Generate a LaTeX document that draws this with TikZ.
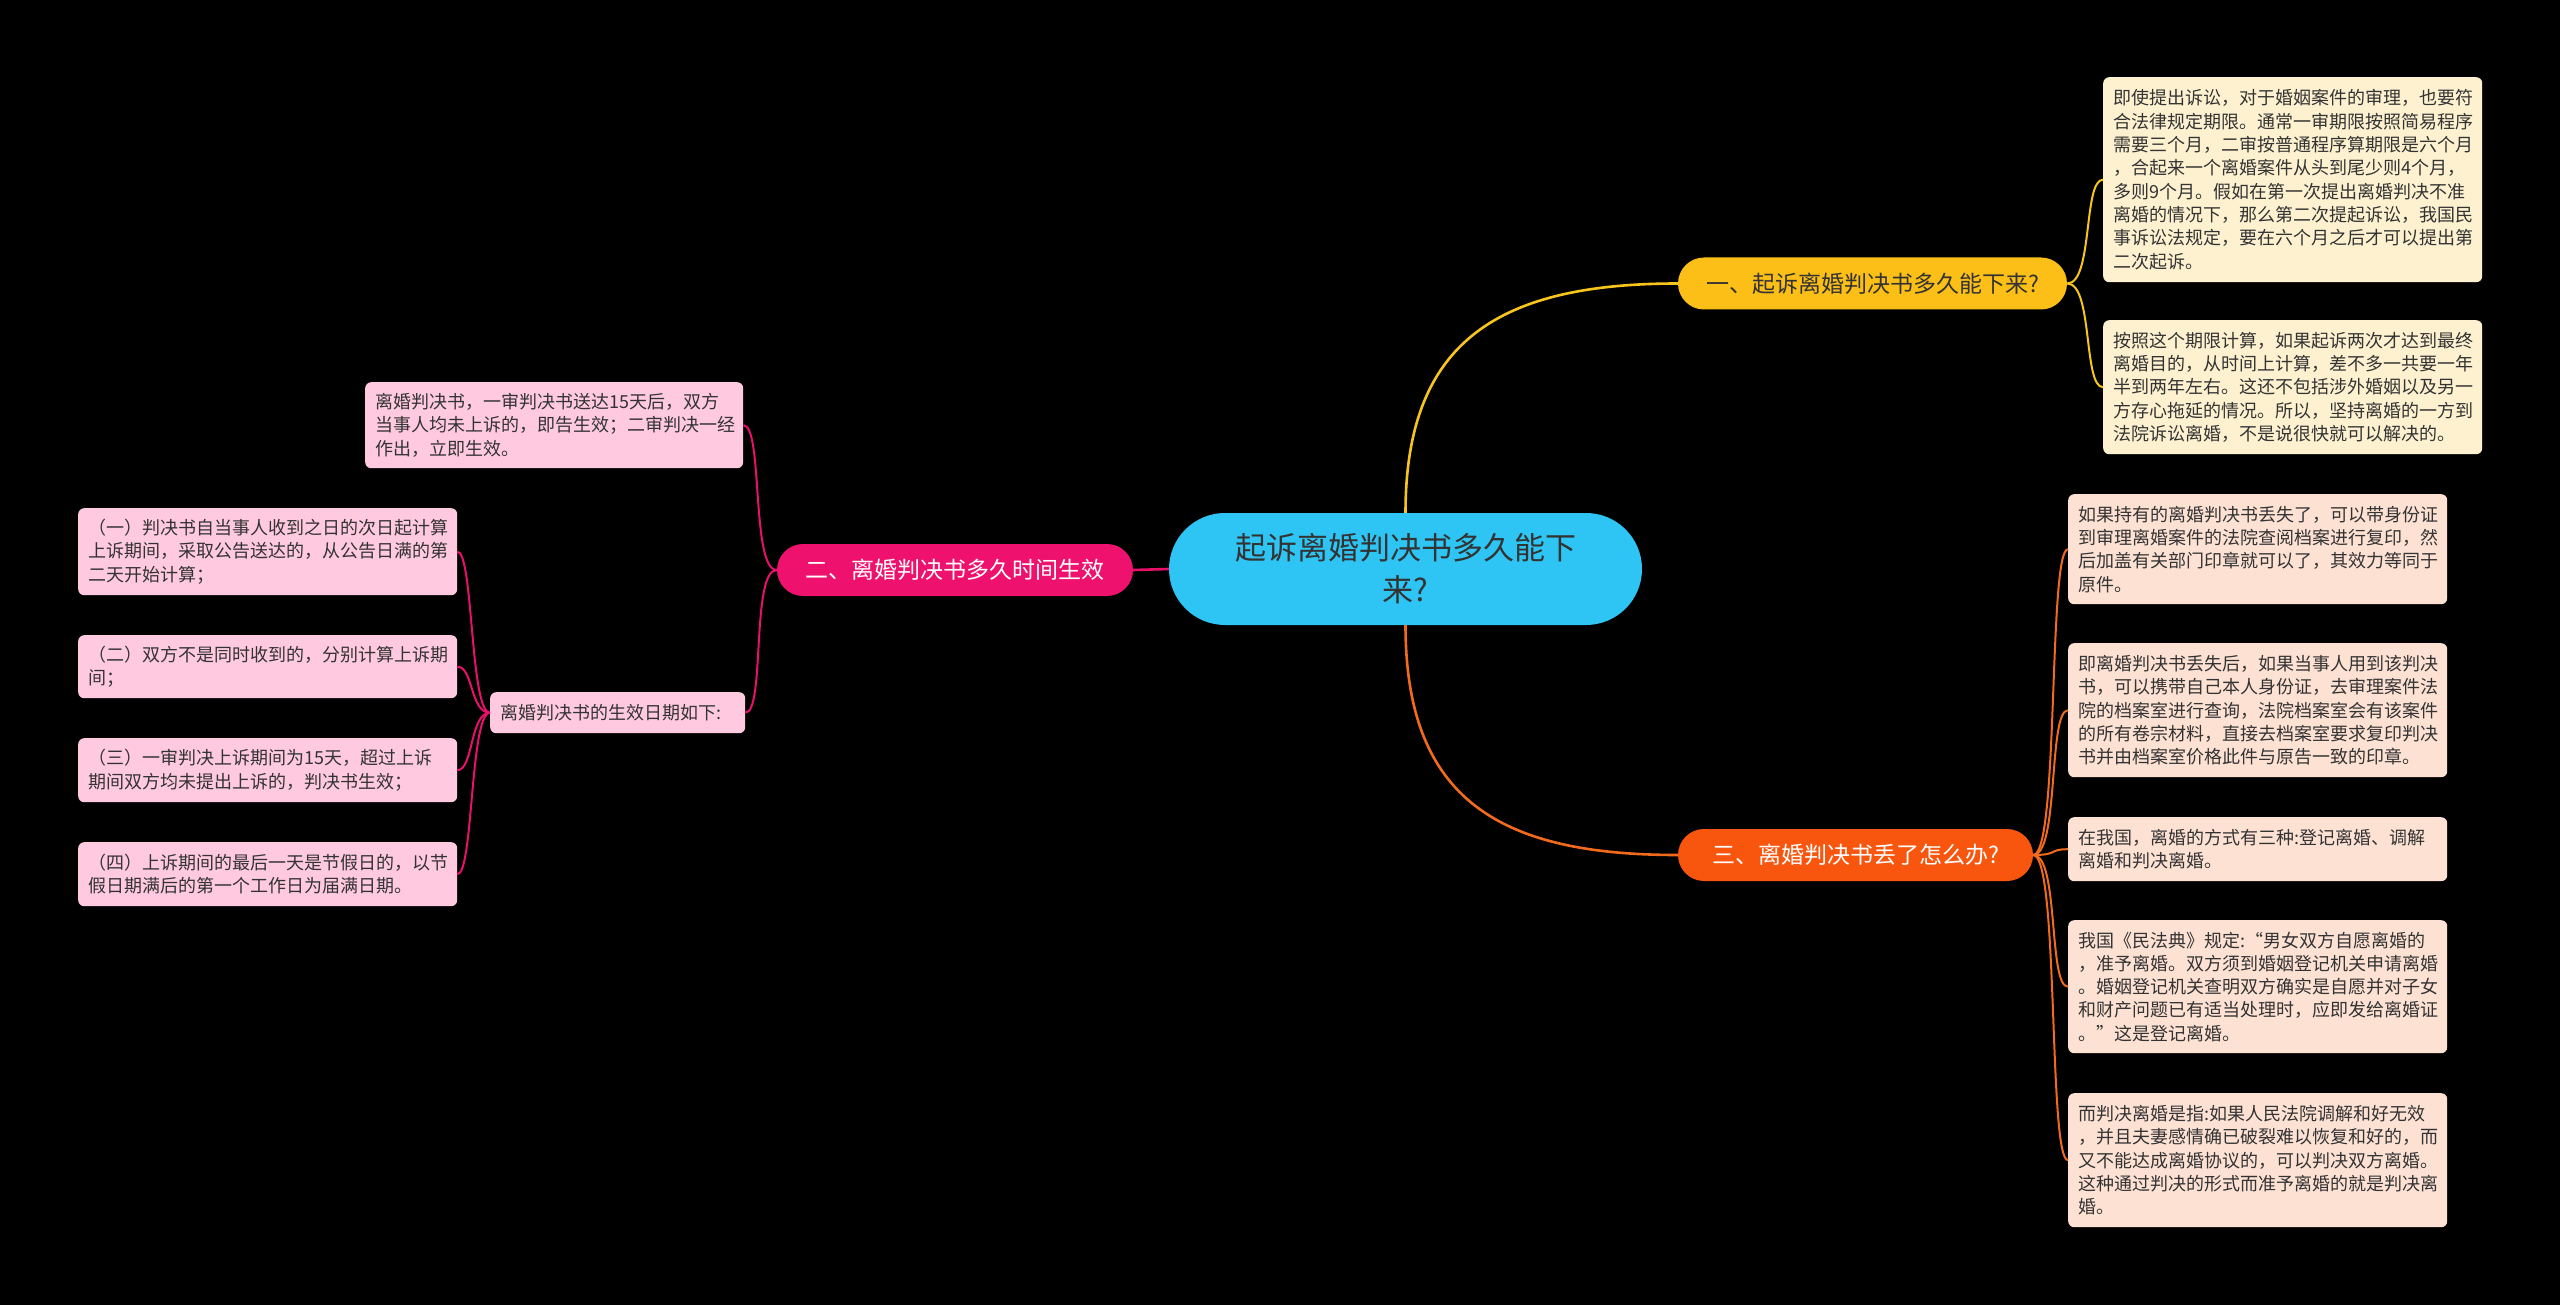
\documentclass[tikz,border=0pt]{standalone}
\usepackage{fontspec}
\setmainfont{Noto Sans CJK SC}
\definecolor{bg}{HTML}{000000}
\definecolor{cen}{HTML}{2EC5F4}
\definecolor{yel}{HTML}{FCBF17}
\definecolor{ora}{HTML}{F8560F}
\definecolor{mag}{HTML}{EE116D}
\definecolor{yleaf}{HTML}{FDF1D0}
\definecolor{oleaf}{HTML}{FDE2D4}
\definecolor{pleaf}{HTML}{FFCADF}
\definecolor{ylin}{HTML}{F8C51C}
\definecolor{olin}{HTML}{F26A1B}
\definecolor{mlin}{HTML}{E8106A}
\definecolor{txt}{HTML}{333333}
\tikzset{
  leaf/.style={anchor=north west, rounded corners=6pt, inner xsep=10pt, inner ysep=0pt,
    align=left, text=txt, font=\fontsize{18}{23.3}\selectfont},
  yleafbox/.style={leaf, fill=yleaf, minimum width=379pt, text width=359pt},
  oleafbox/.style={leaf, fill=oleaf, minimum width=379pt, text width=359pt},
  pleafbox/.style={leaf, fill=pleaf},
  branch/.style={rounded corners=26pt, minimum height=52pt, inner sep=0pt,
    font=\fontsize{23}{28}\selectfont},
  conn/.style={line width=2pt},
  mainconn/.style={line width=2.6pt}
}
\begin{document}
\begin{tikzpicture}[x=1pt,y=-1pt]
\fill[bg] (0,0) rectangle (2560,1305);
\useasboundingbox (0,0) rectangle (2560,1305);

% central
\node[fill=cen, rounded corners=56pt, minimum width=473pt, minimum height=112pt, inner sep=0pt,
  align=center, text=txt, font=\fontsize{31}{42}\selectfont] (c) at (1405.5,569) {起诉离婚判决书多久能下\\来?};

% main branches
\node[branch, fill=yel, text=txt, minimum width=389pt] (b1) at (1872.5,283.5) {一、起诉离婚判决书多久能下来?};
\node[branch, fill=ora, text=white, minimum width=355pt] (b3) at (1855.5,855) {三、离婚判决书丢了怎么办?};
\node[branch, fill=mag, text=white, minimum width=356pt] (b2) at (955,570) {二、离婚判决书多久时间生效};

% yellow leaves
\node[yleafbox, minimum height=205pt] (y1) at (2103,77) {即使提出诉讼，对于婚姻案件的审理，也要符\\合法律规定期限。通常一审期限按照简易程序\\需要三个月，二审按普通程序算期限是六个月\\，合起来一个离婚案件从头到尾少则4个月，\\多则9个月。假如在第一次提出离婚判决不准\\离婚的情况下，那么第二次提起诉讼，我国民\\事诉讼法规定，要在六个月之后才可以提出第\\二次起诉。};
\node[yleafbox, minimum height=134pt] (y2) at (2103,320) {按照这个期限计算，如果起诉两次才达到最终\\离婚目的，从时间上计算，差不多一共要一年\\半到两年左右。这还不包括涉外婚姻以及另一\\方存心拖延的情况。所以，坚持离婚的一方到\\法院诉讼离婚，不是说很快就可以解决的。};

% orange leaves
\node[oleafbox, minimum height=110pt] (o1) at (2068,494) {如果持有的离婚判决书丢失了，可以带身份证\\到审理离婚案件的法院查阅档案进行复印，然\\后加盖有关部门印章就可以了，其效力等同于\\原件。};
\node[oleafbox, minimum height=134pt] (o2) at (2068,643) {即离婚判决书丢失后，如果当事人用到该判决\\书，可以携带自己本人身份证，去审理案件法\\院的档案室进行查询，法院档案室会有该案件\\的所有卷宗材料，直接去档案室要求复印判决\\书并由档案室价格此件与原告一致的印章。};
\node[oleafbox, minimum height=64pt] (o3) at (2068,817) {在我国，离婚的方式有三种:登记离婚、调解\\离婚和判决离婚。};
\node[oleafbox, minimum height=133pt] (o4) at (2068,920) {我国《民法典》规定:“男女双方自愿离婚的\\，准予离婚。双方须到婚姻登记机关申请离婚\\。婚姻登记机关查明双方确实是自愿并对子女\\和财产问题已有适当处理时，应即发给离婚证\\。”这是登记离婚。};
\node[oleafbox, minimum height=134pt] (o5) at (2068,1093) {而判决离婚是指:如果人民法院调解和好无效\\，并且夫妻感情确已破裂难以恢复和好的，而\\又不能达成离婚协议的，可以判决双方离婚。\\这种通过判决的形式而准予离婚的就是判决离\\婚。};

% pink leaves
\node[pleafbox, minimum width=378pt, text width=358pt, minimum height=86pt] (p0) at (365,382) {离婚判决书，一审判决书送达15天后，双方\\当事人均未上诉的，即告生效；二审判决一经\\作出，立即生效。};
\node[pleafbox, minimum width=255pt, text width=235pt, minimum height=41pt] (pd) at (490,692) {离婚判决书的生效日期如下:};
\node[pleafbox, minimum width=379pt, text width=359pt, minimum height=87pt] (q1) at (78,508) {（一）判决书自当事人收到之日的次日起计算\\上诉期间，采取公告送达的，从公告日满的第\\二天开始计算；};
\node[pleafbox, minimum width=379pt, text width=359pt, minimum height=63pt] (q2) at (78,635) {（二）双方不是同时收到的，分别计算上诉期\\间；};
\node[pleafbox, minimum width=379pt, text width=359pt, minimum height=64pt] (q3) at (78,738) {（三）一审判决上诉期间为15天，超过上诉\\期间双方均未提出上诉的，判决书生效；};
\node[pleafbox, minimum width=379pt, text width=359pt, minimum height=64pt] (q4) at (78,842) {（四）上诉期间的最后一天是节假日的，以节\\假日期满后的第一个工作日为届满日期。};

% main connectors
\draw[mainconn, ylin] (c.north) .. controls (1405.5,340) and (1500,283.5) .. (b1.west);
\draw[mainconn, olin] (c.south) .. controls (1405.5,800) and (1500,855) .. (b3.west);
\draw[mainconn, mlin] (c.west) -- (b2.east);

% leaf connectors
\foreach \n in {y1,y2} \draw[conn, ylin] (b1.east) .. controls +(26,0) and +(-20,0) .. (\n.west);
\foreach \n in {o1,o2,o3,o4,o5} \draw[conn, olin] (b3.east) .. controls +(26,0) and +(-20,0) .. (\n.west);
\foreach \n in {p0,pd} \draw[conn, mlin] (b2.west) .. controls +(-26,0) and +(20,0) .. (\n.east);
\foreach \n in {q1,q2,q3,q4} \draw[conn, mlin] (pd.west) .. controls +(-20,0) and +(16,0) .. (\n.east);
\end{tikzpicture}
\end{document}
